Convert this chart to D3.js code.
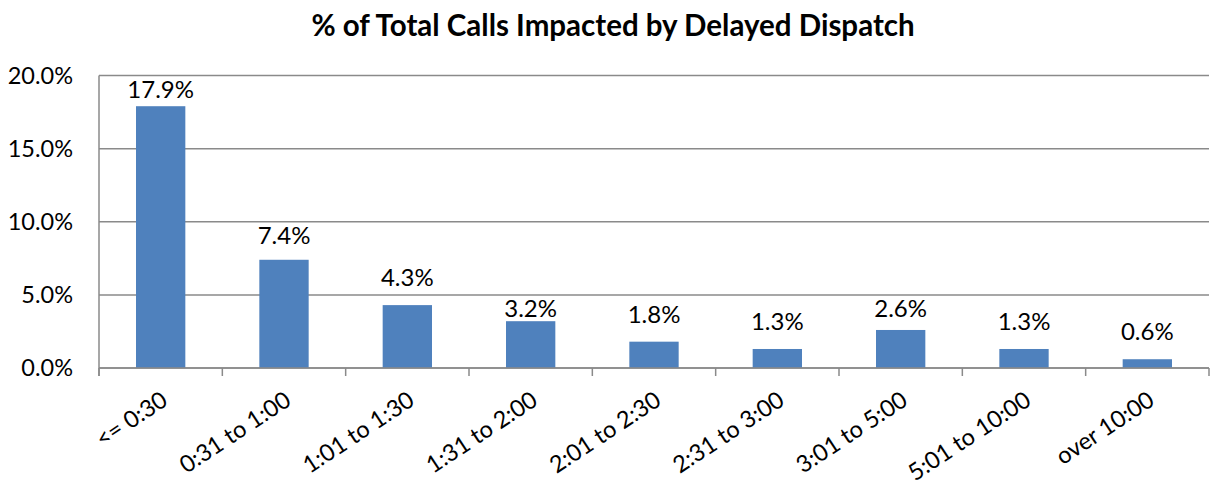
<!DOCTYPE html>
<html>
<head>
<meta charset="utf-8">
<script src="https://cdn.jsdelivr.net/npm/d3@7"></script>
<style>
  body { margin: 0; background: #fff; }
  svg text { font-family: Lato, "Open Sans", sans-serif; fill: #000; }
</style>
</head>
<body>
<div id="chart"></div>
<script>
// data
let categories = ["<= 0:30", "0:31 to 1:00", "1:01 to 1:30", "1:31 to 2:00", "2:01 to 2:30",
                  "2:31 to 3:00", "3:01 to 5:00", "5:01 to 10:00", "over 10:00"];
let values = [17.9, 7.4, 4.3, 3.2, 1.8, 1.3, 2.6, 1.3, 0.6];
let yTicks = [0, 5, 10, 15, 20];

let width = 1210, height = 485;
let margin = {top: 75.5, right: 1, bottom: 117, left: 99};
let plotW = width - margin.left - margin.right;
let plotH = height - margin.top - margin.bottom;
let fontSize = 24;

let svg = d3.select("#chart")
    .append("svg")
    .attr("width", width)
    .attr("height", height);

svg.append("text")
    .attr("x", 613)
    .attr("y", 36)
    .attr("text-anchor", "middle")
    .style("font-size", "29.5px")
    .style("font-weight", 700)
    .text("% of Total Calls Impacted by Delayed Dispatch");

let g = svg.append("g")
    .attr("transform", `translate(${margin.left}, ${margin.top})`);

let x = d3.scaleBand()
    .domain(categories)
    .range([0, plotW])
    .paddingInner(0.6)
    .paddingOuter(0.3);

let y = d3.scaleLinear()
    .domain([0, 20])
    .range([plotH, 0]);

// gridlines
g.selectAll(".grid")
    .data(yTicks)
    .enter()
    .append("line")
    .attr("x1", 0)
    .attr("x2", plotW)
    .attr("y1", d => y(d))
    .attr("y2", d => y(d))
    .attr("stroke", "#8a8a8a")
    .attr("stroke-width", 1.5);

// y tick labels
g.selectAll(".ylab")
    .data(yTicks)
    .enter()
    .append("text")
    .attr("x", -26)
    .attr("y", d => y(d))
    .attr("dy", "0.36em")
    .attr("text-anchor", "end")
    .style("font-size", "23.5px")
    .text(d => d3.format(".1f")(d) + "%");

// bars
g.selectAll(".bar")
    .data(values)
    .enter()
    .append("rect")
    .attr("x", (d, i) => x(categories[i]))
    .attr("y", d => y(d))
    .attr("width", x.bandwidth())
    .attr("height", d => plotH - y(d))
    .attr("fill", "#4f81bd");

// value labels, pushed below a gridline when they would cross it
let capH = 0.72 * fontSize;
function labelBase(v) {
    let base = y(v) - 19;
    let top = base - capH;
    yTicks.forEach(function(t) {
        let gy = y(t);
        if (gy > top - 3 && gy < base + 2) base = gy + 5 + capH;
    });
    return base;
}

g.selectAll(".vlab")
    .data(values)
    .enter()
    .append("text")
    .attr("x", (d, i) => x(categories[i]) + x.bandwidth() / 2)
    .attr("y", d => labelBase(d))
    .attr("text-anchor", "middle")
    .style("font-size", fontSize + "px")
    .text(d => d.toFixed(1) + "%");

// axes lines
g.append("line")
    .attr("x1", 0).attr("x2", 0)
    .attr("y1", 0).attr("y2", plotH + 8)
    .attr("stroke", "#8a8a8a")
    .attr("stroke-width", 1.5);

g.append("line")
    .attr("x1", 0).attr("x2", plotW)
    .attr("y1", plotH).attr("y2", plotH)
    .attr("stroke", "#8a8a8a")
    .attr("stroke-width", 1.5);

g.selectAll(".xtick")
    .data(d3.range(categories.length + 1))
    .enter()
    .append("line")
    .attr("x1", d => d * plotW / categories.length)
    .attr("x2", d => d * plotW / categories.length)
    .attr("y1", plotH)
    .attr("y2", plotH + 8)
    .attr("stroke", "#8a8a8a")
    .attr("stroke-width", 1.5);

// rotated category labels
g.selectAll(".xlab")
    .data(categories)
    .enter()
    .append("text")
    .attr("transform", d => `translate(${x(d) + x.bandwidth() / 2 + 4}, ${plotH + 29}) rotate(-33.5)`)
    .attr("dy", "0.35em")
    .attr("text-anchor", "end")
    .style("font-size", "23.5px")
    .text(d => d);
</script>
</body>
</html>
